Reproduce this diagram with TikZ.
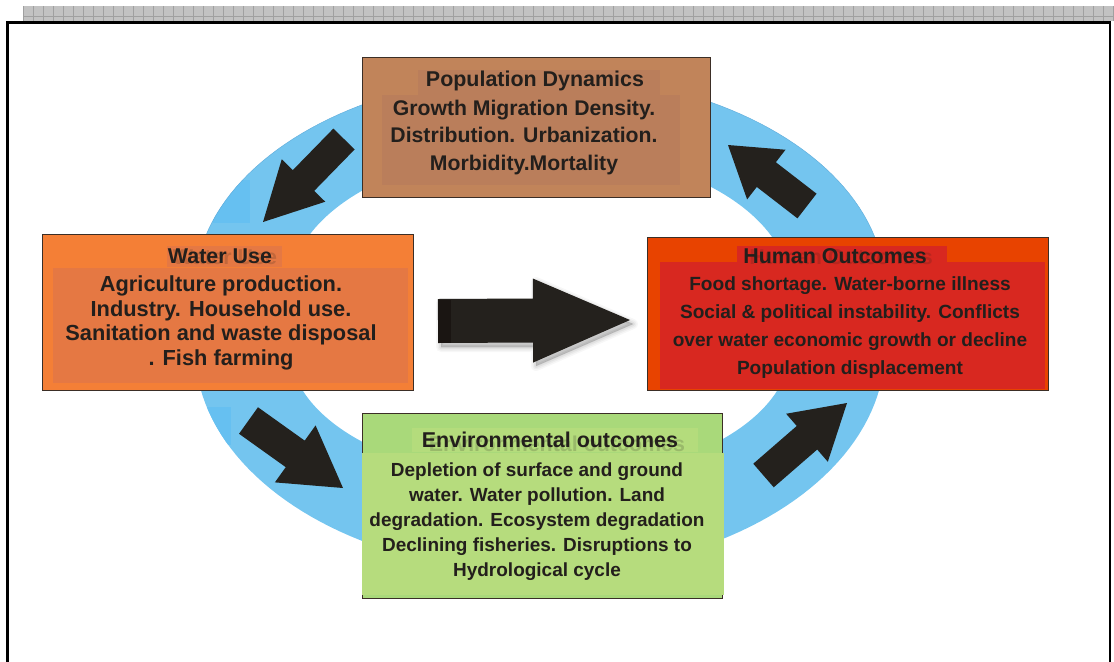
\documentclass[tikz,border=0pt]{standalone}
\usepackage{fontspec}
\setmainfont{Liberation Sans}
\usetikzlibrary{calc}

\definecolor{ink}{HTML}{231F1C}
\definecolor{popout}{HTML}{C1845A}
\definecolor{popin}{HTML}{BA7E5B}
\definecolor{waterout}{HTML}{F47F36}
\definecolor{waterin}{HTML}{E57843}
\definecolor{humanout}{HTML}{E84300}
\definecolor{humanin}{HTML}{D82820}
\definecolor{envout}{HTML}{A9D97A}
\definecolor{envin}{HTML}{B6DC7D}
\definecolor{ringblue}{HTML}{74C5EF}
\definecolor{ringdark}{HTML}{66C0F1}
\definecolor{ringedge}{HTML}{62AEDC}
\definecolor{arrowink}{HTML}{24211D}
\definecolor{arrowtail}{HTML}{1A1512}
\definecolor{stripfill}{HTML}{C2C2C2}
\definecolor{stripline}{HTML}{A0A0A0}
\definecolor{boxedge}{HTML}{3B2E26}

% block arrow: #1 tail, #2 tip, #3 shaft half width, #4 head half width, #5 head length
\newcommand\blockarrow[5]{%
  \path ($(#2)!#5!(#1)$) coordinate (headbase);
  \fill[arrowfill] ($(#1)!#3!90:(#2)$) -- ($(headbase)!#3!90:(#2)$)
    -- ($(headbase)!#4!90:(#2)$) -- (#2) -- ($(headbase)!#4!-90:(#2)$)
    -- ($(headbase)!#3!-90:(#2)$) -- ($(#1)!#3!-90:(#2)$) -- cycle;}

\tikzset{
  boxframe/.style={draw=boxedge, line width=0.8pt, inner sep=0pt},
  textline/.style={text=ink, align=center, inner sep=0pt},
  arrowfill/.style={fill=arrowink},
  titlefont/.style={font=\fontsize{18.3pt}{22pt}\selectfont\bfseries},
  popfont/.style={font=\fontsize{18.1pt}{23.5pt}\selectfont\bfseries},
  waterfont/.style={font=\fontsize{18.6pt}{21.1pt}\selectfont\bfseries},
  humanfont/.style={font=\fontsize{16.3pt}{23.9pt}\selectfont\bfseries},
  envfont/.style={font=\fontsize{16.2pt}{21.2pt}\selectfont\bfseries},
  ghost/.style={opacity=0.18},
}

\begin{document}
\begin{tikzpicture}[x=0.03cm, y=-0.03cm]
\useasboundingbox (0,0) rectangle (1114,661);

% grid strip along the top edge
\fill[stripfill] (23,6) rectangle (1114,21);
\foreach \gx in {23.3,33.3,...,1114} \draw[stripline, line width=0.4pt] (\gx,6) -- (\gx,21);
\draw[stripline, line width=0.4pt] (23,16) -- (1114,16);

% page frame
\draw[line width=2.2pt, draw=black] (7.5,670) -- (7.5,22.5) -- (1110,22.5) -- (1110,670);

% blue cycle ring
\fill[ringblue, even odd rule]
  (885,289) -- plot[domain=0:180, samples=90] ({540+345*cos(\x)}, {289-215*sin(\x)})
  -- (195,349) -- plot[domain=180:360, samples=90] ({540+345*cos(\x)}, {349-224*sin(\x)}) -- cycle
  (790,289) -- plot[domain=0:180, samples=90] ({540+250*cos(\x)}, {289-140*sin(\x)})
  -- (290,349) -- plot[domain=180:360, samples=90] ({540+250*cos(\x)}, {349-132*sin(\x)}) -- cycle;
\begin{scope}
  \clip (885,289) -- plot[domain=0:180, samples=90] ({540+345*cos(\x)}, {289-215*sin(\x)})
  -- (195,349) -- plot[domain=180:360, samples=90] ({540+345*cos(\x)}, {349-224*sin(\x)}) -- cycle;
  \fill[ringdark] (213,180) rectangle (250,223);
  \fill[ringdark] (205,407) rectangle (231,445);
\end{scope}
\draw[ringedge, line width=0.4pt]
  plot[domain=10:170, samples=80] ({540+345*cos(\x)}, {289-215*sin(\x)});

% boxes
\node[boxframe, fill=popout, minimum width=348*0.03cm, minimum height=140*0.03cm] (pop) at (536,127) {};
\fill[popin] (418,70) rectangle (660,95);
\fill[popin] (382,95) rectangle (680,185);

\node[boxframe, fill=waterout, minimum width=371*0.03cm, minimum height=156*0.03cm] (water) at (227.5,312) {};
\fill[waterin] (167,246) rectangle (282,267);
\fill[waterin] (53,268) rectangle (408,383);

\node[boxframe, fill=humanout, minimum width=401*0.03cm, minimum height=153*0.03cm] (human) at (847.5,313.5) {};
\fill[humanin] (737,246) rectangle (947,263);
\fill[humanin] (660,262) rectangle (1045,389);

\node[boxframe, fill=envout, minimum width=360*0.03cm, minimum height=185*0.03cm] (env) at (542,505.5) {};
\fill[envin!85!envout] (412,428) rectangle (698,452);
\fill[envin] (362,453) rectangle (724,595);

% texts
\node[textline, titlefont] (poptitle) at (535,81) {Population Dynamics};
\node[textline, popfont] (popbody) at (524,137.5) {Growth Migration Density.\\Distribution. Urbanization.\\Morbidity.Mortality};

\node[textline, titlefont, ghost] (watertitleshade) at (225,257) {Water Use};
\node[textline, titlefont] (watertitle) at (220,256) {Water Use};
\node[textline, waterfont] (waterbody) at (221,323) {Agriculture production.\\Industry. Household use.\\Sanitation and waste disposal\\. Fish farming};

\node[textline, titlefont, ghost] (humantitleshade) at (841,257) {Human Outcomes};
\node[textline, titlefont] (humantitle) at (835,256) {Human Outcomes};
\node[textline, humanfont] (humanbody) at (850,328) {Food shortage. Water-borne illness\\Social \& political instability. Conflicts\\over water economic growth or decline\\Population displacement};

\node[textline, titlefont, ghost] (envtitleshade) at (557,444) {Environmental outcomes};
\node[textline, titlefont] (envtitle) at (550,440) {Environmental outcomes};
\node[textline, envfont] (envbody) at (537,521.5) {Depletion of surface and ground\\water. Water pollution. Land\\degradation. Ecosystem degradation\\Declining fisheries. Disruptions to\\Hydrological cycle};

% cycle arrows
\coordinate (a1tail) at (344,139);   \coordinate (a1tip) at (263,222);
\coordinate (a2tail) at (807,206);   \coordinate (a2tip) at (728,145);
\coordinate (a3tail) at (248.5,420.5); \coordinate (a3tip) at (343,488);
\coordinate (a4tail) at (763.5,475.5); \coordinate (a4tip) at (847,403);
\coordinate (a5tail) at (438,321);   \coordinate (a5tip) at (630,320);

\blockarrow{a1tail}{a1tip}{0.447cm}{0.912cm}{1.74cm}
\blockarrow{a2tail}{a2tip}{0.468cm}{0.942cm}{1.452cm}
\blockarrow{a3tail}{a3tip}{0.489cm}{1.05cm}{1.761cm}
\blockarrow{a4tail}{a4tip}{0.468cm}{0.954cm}{1.59cm}

% soft shadow under the central arrow
\foreach \sw/\so in {10/0.03,7/0.04,4/0.05,1/0.06} {
  \draw[black, opacity=\so, line width=\sw*0.03cm, line join=round, fill=black, fill opacity=\so]
    (441,303) -- (536,303) -- (536,282) -- (633,324) -- (536,366) -- (536,347) -- (441,347) -- cycle;
}
\blockarrow{a5tail}{a5tip}{0.66cm}{1.26cm}{2.91cm}
\fill[arrowtail] (438,299.5) rectangle (451,342.5);

\end{tikzpicture}
\end{document}
